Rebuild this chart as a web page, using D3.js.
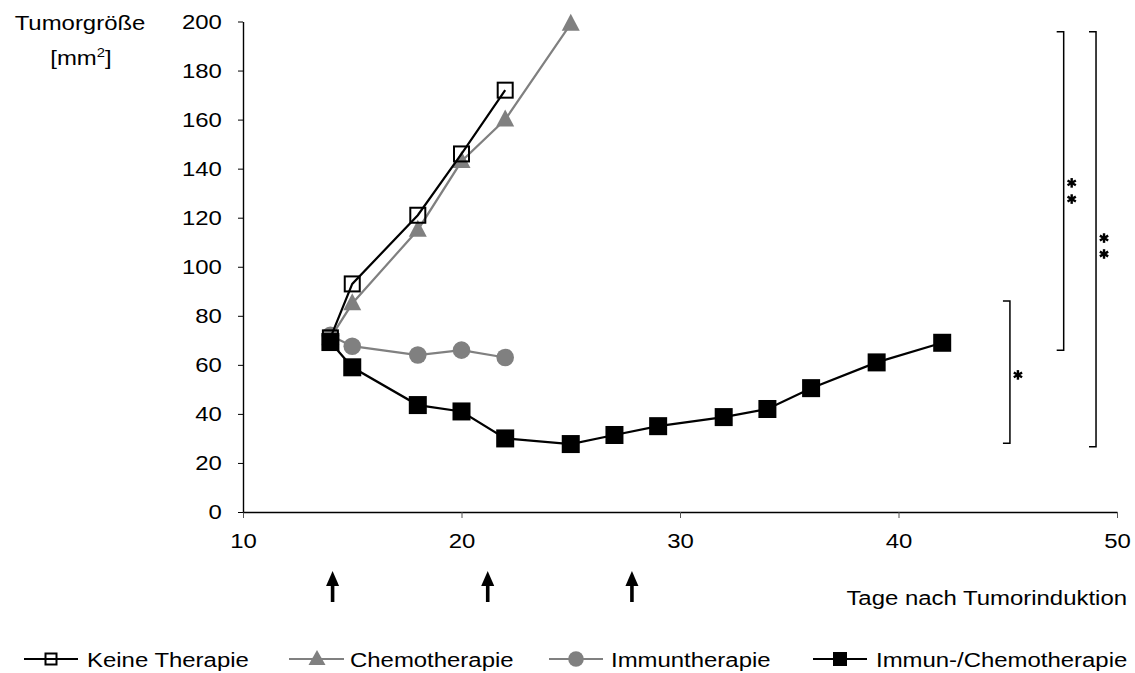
<!DOCTYPE html>
<html>
<head>
<meta charset="utf-8">
<script src="https://cdn.jsdelivr.net/npm/d3@7"></script>
<style>
  html, body { margin: 0; padding: 0; background: #fff; }
  svg { display: block; font-family: "Liberation Sans", Arial, sans-serif; }
</style>
</head>
<body>
<svg id="chart" width="1135" height="673"></svg>
<script>
// ---------- data ----------
const seriesNames = ["Keine Therapie", "Chemotherapie", "Immuntherapie", "Immun-/Chemotherapie"];
const keineDays = [14, 15, 18, 20, 22];
const keineVals = [71, 93, 121, 146, 172];
const chemoDays = [14, 15, 18, 20, 22, 25];
const chemoVals = [71, 85, 115, 143, 160, 199];
const immunDays = [14, 15, 18, 20, 22];
const immunVals = [72, 67.6, 64, 66, 63];
const comboDays = [14, 15, 18, 20, 22, 25, 27, 29, 32, 34, 36, 39, 42];
const comboVals = [69.3, 59, 43.6, 41, 30, 27.7, 31.4, 35, 38.7, 42, 50.5, 61, 69];
const xTicks = [10, 20, 30, 40, 50];
const yTicks = [0, 20, 40, 60, 80, 100, 120, 140, 160, 180, 200];
const treatmentDays = [14.1, 21.2, 27.8];
// significance brackets: x position (day), y range (mm²), star positions (mm²)
const bracketX = [45.1, 47.56, 49.04];
const bracketTop = [86, 195.8, 195.8];
const bracketBottom = [28, 66, 26.6];
const bracketStars = [[55.9], [134.2, 127.6], [111.7, 105.2]];

// ---------- setup ----------
const svg = d3.select("#chart");
const x = d3.scaleLinear().domain([10, 50]).range([243, 1117]);
const y = d3.scaleLinear().domain([0, 200]).range([512, 21.5]);
const GRAY = "#808080";
const FS = 21, SX = 1.14;

function stretchText(sel, px, py, str, anchor) {
  return sel.append("text")
    .attr("transform", `translate(${px},${py}) scale(${SX},1)`)
    .attr("text-anchor", anchor || "start")
    .attr("font-size", FS)
    .attr("fill", "#000")
    .text(str);
}

// ---------- axes ----------
const xAxis = svg.append("g").attr("transform", `translate(0,${y(0)})`)
  .call(d3.axisBottom(x).tickValues(xTicks).tickSize(6).tickSizeOuter(0).tickFormat(d3.format("d")));
xAxis.select(".domain").attr("stroke", "#000").attr("stroke-width", 1.4);
xAxis.selectAll(".tick line").attr("stroke", "#555").attr("stroke-width", 1);
xAxis.selectAll(".tick text")
  .attr("font-size", FS).attr("font-family", "Liberation Sans, Arial, sans-serif")
  .attr("y", 21.5).attr("transform", `scale(${SX},1)`).attr("fill", "#000");

const yAxis = svg.append("g").attr("transform", `translate(${x(10)},0)`)
  .call(d3.axisLeft(y).tickValues(yTicks).tickSize(5).tickSizeOuter(0));
yAxis.select(".domain").attr("stroke", "#000").attr("stroke-width", 1.4);
yAxis.selectAll(".tick line").attr("stroke", "#000").attr("stroke-width", 1);
yAxis.selectAll(".tick text")
  .attr("font-size", FS).attr("font-family", "Liberation Sans, Arial, sans-serif")
  .attr("x", -18.5).attr("transform", `scale(${SX},1)`).attr("fill", "#000");

// axis titles
stretchText(svg, 80, 30, "Tumorgröße", "middle");
const unit = svg.append("text")
  .attr("transform", `translate(81,65) scale(${SX},1)`)
  .attr("text-anchor", "middle").attr("font-size", FS);
unit.append("tspan").text("[mm");
unit.append("tspan").attr("font-size", 13).attr("dy", -8).text("2");
unit.append("tspan").attr("dy", 8).text("]");
stretchText(svg, 1127, 605, "Tage nach Tumorinduktion", "end");

// ---------- series ----------
const line = d3.line().x(d => x(d[0])).y(d => y(d[1]));
const zip = (a, b) => a.map((v, i) => [v, b[i]]);

const triPath = (w, h) => `M0,${-h * 0.6}L${w / 2},${h * 0.4}L${-w / 2},${h * 0.4}Z`;

function drawMarkers(g, pts, type, big) {
  pts.forEach(p => drawMarker(g, x(p[0]), y(p[1]), type, big));
}
function drawMarker(g, cx, cy, type, big) {
  if (type === "open") {
    const s = big ? 15 : 11;
    g.append("rect").attr("x", cx - s / 2).attr("y", cy - s / 2).attr("width", s).attr("height", s)
      .attr("fill", "none").attr("stroke", "#000").attr("stroke-width", 2);
  } else if (type === "tri") {
    const w = big ? 18 : 17, h = big ? 17 : 15;
    g.append("path").attr("transform", `translate(${cx},${cy})`).attr("d", triPath(w, h)).attr("fill", GRAY);
  } else if (type === "circle") {
    g.append("circle").attr("cx", cx).attr("cy", cy).attr("r", big ? 8.8 : 7.8).attr("fill", GRAY);
  } else {
    const s = big ? 18 : 14;
    g.append("rect").attr("x", cx - s / 2).attr("y", cy - s / 2).attr("width", s).attr("height", s).attr("fill", "#000");
  }
}

const series = [
  { pts: zip(chemoDays, chemoVals), color: GRAY, type: "tri" },
  { pts: zip(immunDays, immunVals), color: GRAY, type: "circle" },
  { pts: zip(keineDays, keineVals), color: "#000", type: "open" },
  { pts: zip(comboDays, comboVals), color: "#000", type: "filled" }
];
series.forEach(s => {
  const g = svg.append("g");
  g.append("path").attr("d", line(s.pts)).attr("fill", "none").attr("stroke", s.color).attr("stroke-width", 2.2);
  drawMarkers(g, s.pts, s.type, true);
});

// ---------- significance brackets ----------
const bg = svg.append("g");
function asterisk(g, cx, cy) {
  const r = 4.8;
  [90, 30, 150].forEach(a => {
    const rad = a * Math.PI / 180;
    g.append("line")
      .attr("x1", cx - r * Math.cos(rad)).attr("y1", cy - r * Math.sin(rad))
      .attr("x2", cx + r * Math.cos(rad)).attr("y2", cy + r * Math.sin(rad))
      .attr("stroke", "#000").attr("stroke-width", 2.4);
  });
}
bracketX.forEach((bx, i) => {
  const px = x(bx), t = y(bracketTop[i]), b = y(bracketBottom[i]);
  bg.append("path").attr("d", `M${px - 7},${t}H${px}V${b}H${px - 7}`)
    .attr("fill", "none").attr("stroke", "#000").attr("stroke-width", 1.5);
  bracketStars[i].forEach(sv => asterisk(bg, px + 8, y(sv)));
});

// ---------- treatment arrows ----------
const ag = svg.append("g");
treatmentDays.forEach(d => {
  const px = x(d);
  ag.append("line").attr("x1", px).attr("x2", px).attr("y1", 602).attr("y2", 582)
    .attr("stroke", "#000").attr("stroke-width", 3.6);
  ag.append("path").attr("d", `M${px},${571}L${px + 6.5},${586}L${px - 6.5},${586}Z`).attr("fill", "#000");
});

// ---------- legend ----------
const legendItems = [
  { name: seriesNames[0], color: "#000", type: "open", x0: 24, x1: 78, mx: 51, tx: 87 },
  { name: seriesNames[1], color: GRAY, type: "tri", x0: 289, x1: 344, mx: 317, tx: 350 },
  { name: seriesNames[2], color: GRAY, type: "circle", x0: 549, x1: 603, mx: 576, tx: 611 },
  { name: seriesNames[3], color: "#000", type: "filled", x0: 813, x1: 867, mx: 840, tx: 876 }
];
const lg = svg.append("g");
const LY = 659;
legendItems.forEach(it => {
  lg.append("line").attr("x1", it.x0).attr("x2", it.x1).attr("y1", LY).attr("y2", LY)
    .attr("stroke", it.color).attr("stroke-width", 2.2);
  drawMarker(lg, it.mx, LY, it.type, false);
  stretchText(lg, it.tx, LY + 7.5, it.name, "start");
});
</script>
</body>
</html>
